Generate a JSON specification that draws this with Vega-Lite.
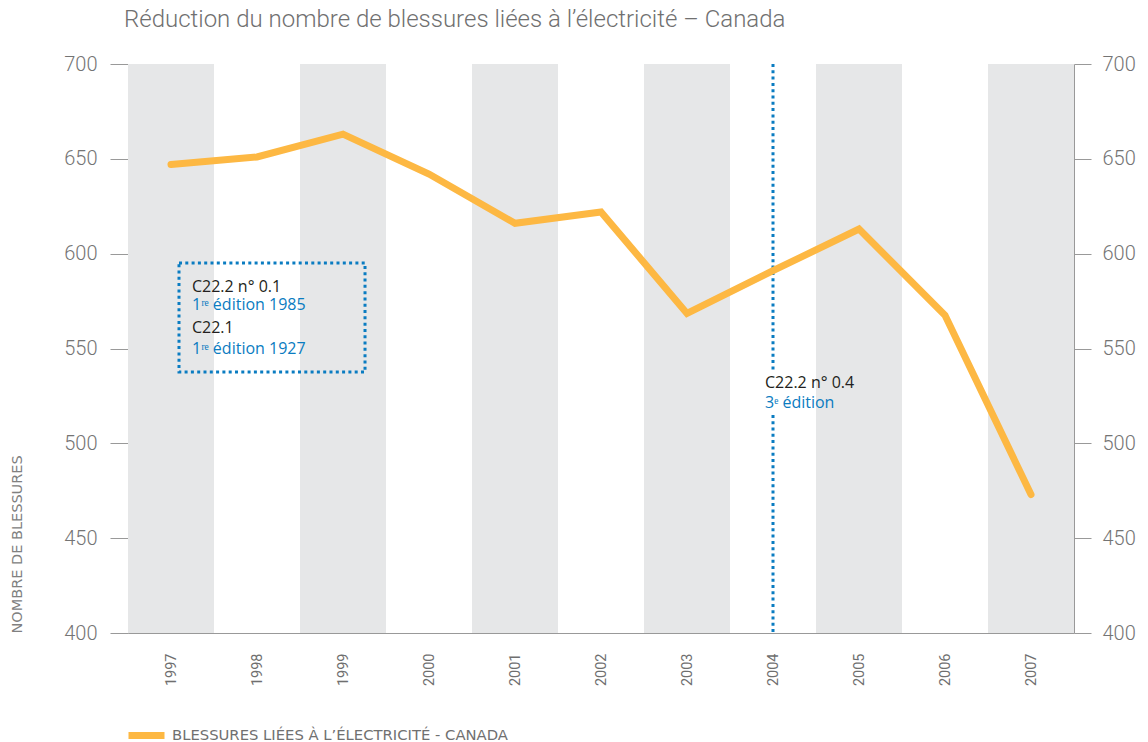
{
  "$schema": "https://vega.github.io/schema/vega-lite/v6.json",
  "autosize": {"type": "none"},
  "padding": {"left": 128, "top": 64, "right": 74, "bottom": 109},
  "width": 946,
  "height": 569,
  "background": "white",
  "title": {
    "text": "Réduction du nombre de blessures liées à l’électricité – Canada",
    "anchor": "start",
    "frame": "group",
    "font": "Roboto",
    "fontWeight": 300,
    "fontSize": 24,
    "color": "#707070",
    "dx": -4,
    "offset": 22
  },
  "config": {
    "view": {"stroke": null},
    "axis": {
      "grid": false,
      "domainColor": "#999999",
      "tickColor": "#999999",
      "labelColor": "#747474",
      "labelFont": "Roboto",
      "labelFontWeight": 300
    }
  },
  "resolve": {"axis": {"y": "independent"}},
  "layer": [
    {
      "data": {"values": [{"year": 1997}, {"year": 1999}, {"year": 2001}, {"year": 2003}, {"year": 2005}, {"year": 2007}]},
      "mark": {"type": "bar", "width": 86, "color": "#e6e7e8"},
      "encoding": {
        "x": {
          "field": "year", "type": "quantitative",
          "scale": {"domain": [1996.5, 2007.5], "nice": false, "zero": false, "padding": 0},
          "axis": {
            "values": [1997, 1998, 1999, 2000, 2001, 2002, 2003, 2004, 2005, 2006, 2007],
            "format": "d", "title": null, "ticks": false, "labelAngle": 270,
            "labelPadding": 20, "labelFontSize": 14.5, "labelFontWeight": 400, "labelColor": "#6f6f6f",
            "labelFlush": false, "labelOverlap": false
          }
        },
        "y": {
          "datum": 700, "type": "quantitative",
          "scale": {"domain": [400, 700], "nice": false, "zero": false},
          "axis": {
            "orient": "left", "values": [400, 450, 500, 550, 600, 650, 700],
            "tickSize": 18, "labelPadding": 13, "labelFontSize": 20,
            "title": "NOMBRE DE BLESSURES", "titleFont": "DejaVu Sans", "titleFontWeight": 400,
            "titleFontSize": 14.5, "titleColor": "#808080", "titleAngle": 270,
            "titleX": -111, "titleY": 569, "titleAlign": "left", "titleBaseline": "middle"
          }
        },
        "y2": {"datum": 400}
      }
    },
    {
      "data": {"values": [{"year": 2004, "top": 700, "bottom": 537.6}, {"year": 2004, "top": 515, "bottom": 400}]},
      "mark": {"type": "rule", "color": "#0a7cc1", "strokeWidth": 3, "strokeDash": [3, 3.3]},
      "encoding": {
        "x": {"field": "year", "type": "quantitative"},
        "y": {"field": "top", "type": "quantitative", "axis": null},
        "y2": {"field": "bottom"}
      }
    },
    {
      "data": {"values": [{"left": 1997.093, "right": 1999.256, "top": 595.1, "bottom": 537.6}]},
      "mark": {"type": "rect", "filled": false, "stroke": "#0a7cc1", "strokeWidth": 3, "strokeDash": [3, 3.3]},
      "encoding": {
        "x": {"field": "left", "type": "quantitative"},
        "x2": {"field": "right"},
        "y": {"field": "top", "type": "quantitative", "axis": null},
        "y2": {"field": "bottom"}
      }
    },
    {
      "data": {"values": [
        {"year": 1997, "injuries": 647, "series": "BLESSURES LIÉES À L’ÉLECTRICITÉ - CANADA"},
        {"year": 1998, "injuries": 651, "series": "BLESSURES LIÉES À L’ÉLECTRICITÉ - CANADA"},
        {"year": 1999, "injuries": 663, "series": "BLESSURES LIÉES À L’ÉLECTRICITÉ - CANADA"},
        {"year": 2000, "injuries": 642, "series": "BLESSURES LIÉES À L’ÉLECTRICITÉ - CANADA"},
        {"year": 2001, "injuries": 616, "series": "BLESSURES LIÉES À L’ÉLECTRICITÉ - CANADA"},
        {"year": 2002, "injuries": 622, "series": "BLESSURES LIÉES À L’ÉLECTRICITÉ - CANADA"},
        {"year": 2003, "injuries": 568.5, "series": "BLESSURES LIÉES À L’ÉLECTRICITÉ - CANADA"},
        {"year": 2004, "injuries": 591, "series": "BLESSURES LIÉES À L’ÉLECTRICITÉ - CANADA"},
        {"year": 2005, "injuries": 613, "series": "BLESSURES LIÉES À L’ÉLECTRICITÉ - CANADA"},
        {"year": 2006, "injuries": 567.5, "series": "BLESSURES LIÉES À L’ÉLECTRICITÉ - CANADA"},
        {"year": 2007, "injuries": 473, "series": "BLESSURES LIÉES À L’ÉLECTRICITÉ - CANADA"}
      ]},
      "mark": {"type": "line", "strokeWidth": 7, "strokeJoin": "miter", "strokeCap": "round"},
      "encoding": {
        "x": {"field": "year", "type": "quantitative"},
        "y": {
          "field": "injuries", "type": "quantitative",
          "axis": {
            "orient": "right", "values": [400, 450, 500, 550, 600, 650, 700],
            "tickSize": 17, "labelPadding": 11, "labelFontSize": 20, "title": null
          }
        },
        "color": {
          "field": "series", "type": "nominal",
          "scale": {"range": ["#fdb843"]},
          "legend": {
            "orient": "none", "legendX": -3, "legendY": 650, "title": null,
            "padding": 0, "symbolType": "stroke", "symbolStrokeWidth": 7, "symbolSize": 1296,
            "labelFont": "DejaVu Sans", "labelFontSize": 14.8, "labelColor": "#707070",
            "labelOffset": 4, "labelLimit": 0
          }
        }
      }
    },
    {
      "data": {"values": [
        {"x": 1997.244, "y": 579.8, "label": "C22.2 n° 0.1"},
        {"x": 1997.244, "y": 558.2, "label": "C22.1"},
        {"x": 2003.907, "y": 529.2, "label": "C22.2 n° 0.4"}
      ]},
      "mark": {"type": "text", "align": "left", "baseline": "alphabetic", "font": "Open Sans", "fontSize": 16, "color": "#231f20"},
      "encoding": {
        "x": {"field": "x", "type": "quantitative"},
        "y": {"field": "y", "type": "quantitative", "axis": null},
        "text": {"field": "label"}
      }
    },
    {
      "data": {"values": [
        {"x": 1997.244, "y": 570.3, "label": "1ʳᵉ édition 1985"},
        {"x": 1997.244, "y": 547.1, "label": "1ʳᵉ édition 1927"},
        {"x": 2003.907, "y": 518.6, "label": "3ᵉ édition"}
      ]},
      "mark": {"type": "text", "align": "left", "baseline": "alphabetic", "font": "Open Sans", "fontSize": 16, "color": "#0a7cc1"},
      "encoding": {
        "x": {"field": "x", "type": "quantitative"},
        "y": {"field": "y", "type": "quantitative", "axis": null},
        "text": {"field": "label"}
      }
    }
  ]
}
